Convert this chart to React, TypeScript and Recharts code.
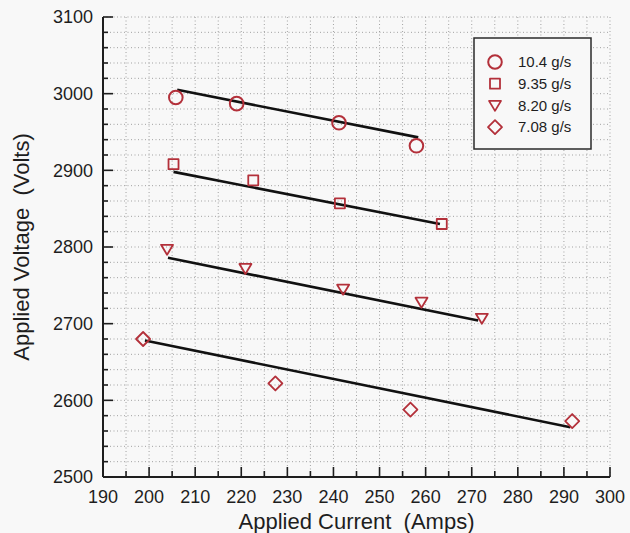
import { ScatterChart, Scatter, XAxis, YAxis, CartesianGrid } from "recharts";

// measured points, one array per flow rate
const seriesNames = ["10.4 g/s", "9.35 g/s", "8.20 g/s", "7.08 g/s"];

const amps104 = [205.8, 219.0, 241.2, 258.0];
const volts104 = [2995, 2987, 2962, 2932];
const amps935 = [205.3, 222.6, 241.4, 263.5];
const volts935 = [2908, 2887, 2857, 2830];
const amps820 = [203.9, 220.9, 242.1, 259.1, 272.2];
const volts820 = [2797, 2772, 2745, 2728, 2707];
const amps708 = [198.7, 227.4, 256.7, 291.8];
const volts708 = [2680, 2622, 2588, 2573];

// least-squares fit lines, end points
const fitAmps104 = [206.1, 258.4];
const fitVolts104 = [3005, 2943];
const fitAmps935 = [205.3, 263.1];
const fitVolts935 = [2898, 2830];
const fitAmps820 = [204.1, 271.4];
const fitVolts820 = [2786, 2704];
const fitAmps708 = [199.1, 291.4];
const fitVolts708 = [2678, 2565];

const xTicks = [
  190, 195, 200, 205, 210, 215, 220, 225, 230, 235, 240, 245, 250, 255, 260,
  265, 270, 275, 280, 285, 290, 295, 300,
];
const yTicks = [
  2500, 2520, 2540, 2560, 2580, 2600, 2620, 2640, 2660, 2680, 2700, 2720,
  2740, 2760, 2780, 2800, 2820, 2840, 2860, 2880, 2900, 2920, 2940, 2960,
  2980, 3000, 3020, 3040, 3060, 3080, 3100,
];

const RED = "#b3303a";
const INK = "#1e1e1e";
const FONT = "'Liberation Sans', Arial, sans-serif";
const X_GAP = 13;
const Y_GAP = 10;

const pts = (xs: number[], ys: number[]) => xs.map((x, i) => ({ x, y: ys[i] }));

const markerPath = (kind: number, cx: number, cy: number, s = 1) => {
  if (kind === 1) {
    const h = 5 * s;
    return `M${cx - h},${cy - h}H${cx + h}V${cy + h}H${cx - h}Z`;
  }
  if (kind === 2) {
    return `M${cx - 6 * s},${cy - 4.5 * s}H${cx + 6 * s}L${cx},${cy + 5.5 * s}Z`;
  }
  const d = 7 * s;
  return `M${cx},${cy - d}L${cx + d},${cy}L${cx},${cy + d}L${cx - d},${cy}Z`;
};

const Marker = ({ kind, cx, cy }: { kind: number; cx: number; cy: number }) =>
  kind === 0 ? (
    <circle cx={cx} cy={cy} r={6.8} fill="none" stroke={RED} strokeWidth={2} />
  ) : (
    <path d={markerPath(kind, cx, cy)} fill="none" stroke={RED} strokeWidth={1.8} strokeLinejoin="round" />
  );

const XTick = (props: any) => {
  const { x, y, payload } = props;
  const v = payload.value;
  const major = v % 10 === 0;
  const axisY = y - X_GAP;
  return (
    <g>
      <line x1={x} x2={x} y1={axisY} y2={axisY - (major ? 10 : 6)} stroke={INK} strokeWidth={1.6} />
      {major && (
        <text x={x} y={y} dy="0.71em" textAnchor="middle" fontSize={18} fontFamily={FONT} fill={INK}>
          {v}
        </text>
      )}
    </g>
  );
};

const YTick = (props: any) => {
  const { x, y, payload } = props;
  const v = payload.value;
  const major = v % 100 === 0;
  const axisX = x + Y_GAP;
  return (
    <g>
      <line x1={axisX} x2={axisX + (major ? 10 : 5)} y1={y} y2={y} stroke={INK} strokeWidth={1.6} />
      {major && (
        <text x={x} y={y} dy="0.355em" textAnchor="end" fontSize={18} fontFamily={FONT} fill={INK}>
          {v}
        </text>
      )}
    </g>
  );
};

const Legend = () => (
  <svg width={120} height={114} style={{ position: "absolute", left: 473, top: 37 }}>
    <rect x={1} y={1} width={117} height={111} fill="#f8f8f8" stroke="#2a2a2a" strokeWidth={1.5} />
    {seriesNames.map((name, i) => {
      const cy = 25 + i * 21.7;
      return (
        <g key={name}>
          <Marker kind={i} cx={22} cy={cy} />
          <text x={45} y={cy} dy="0.355em" fontSize={15} fontFamily={FONT} fill={INK}>
            {name}
          </text>
        </g>
      );
    })}
  </svg>
);

const measured = [
  pts(amps104, volts104),
  pts(amps935, volts935),
  pts(amps820, volts820),
  pts(amps708, volts708),
];
const fits = [
  pts(fitAmps104, fitVolts104),
  pts(fitAmps935, fitVolts935),
  pts(fitAmps820, fitVolts820),
  pts(fitAmps708, fitVolts708),
];

export default function App() {
  return (
    <div style={{ position: "absolute", left: 0, top: 0, width: 630, height: 533, background: "#f8f8f8" }}>
      <ScatterChart width={630} height={533} margin={{ top: 17, right: 20, bottom: 0, left: 0 }}>
        <CartesianGrid stroke="#a2a2a2" strokeDasharray="1 2.5" strokeWidth={1} />
        <XAxis
          type="number"
          dataKey="x"
          domain={[190, 300]}
          ticks={xTicks}
          interval={0}
          tickSize={0}
          tickMargin={X_GAP}
          tickLine={false}
          tick={(p: any) => <XTick {...p} />}
          axisLine={{ stroke: INK, strokeWidth: 2 }}
          height={56}
          allowDataOverflow
          label={{
            value: "Applied Current\u00A0 (Amps)",
            position: "insideBottom",
            offset: 4,
            fontSize: 22,
            fill: INK,
            style: { fontFamily: FONT },
          }}
        />
        <YAxis
          type="number"
          dataKey="y"
          domain={[2500, 3100]}
          ticks={yTicks}
          interval={0}
          tickSize={0}
          tickMargin={Y_GAP}
          tickLine={false}
          tick={(p: any) => <YTick {...p} />}
          axisLine={{ stroke: INK, strokeWidth: 2 }}
          width={103}
          allowDataOverflow
          label={{
            value: "Applied Voltage\u00A0 (Volts)",
            position: "insideLeft",
            angle: -90,
            offset: 21,
            fontSize: 22,
            fill: INK,
            style: { fontFamily: FONT, textAnchor: "middle" },
          }}
        />
        {fits.map((d, i) => (
          <Scatter
            key={`fit${i}`}
            data={d}
            line={{ stroke: "#111", strokeWidth: 2.6 }}
            shape={() => <g />}
            isAnimationActive={false}
          />
        ))}
        {measured.map((d, i) => (
          <Scatter
            key={`pts${i}`}
            data={d}
            shape={(p: any) => <Marker kind={i} cx={p.cx} cy={p.cy} />}
            isAnimationActive={false}
          />
        ))}
      </ScatterChart>
      <Legend />
    </div>
  );
}
